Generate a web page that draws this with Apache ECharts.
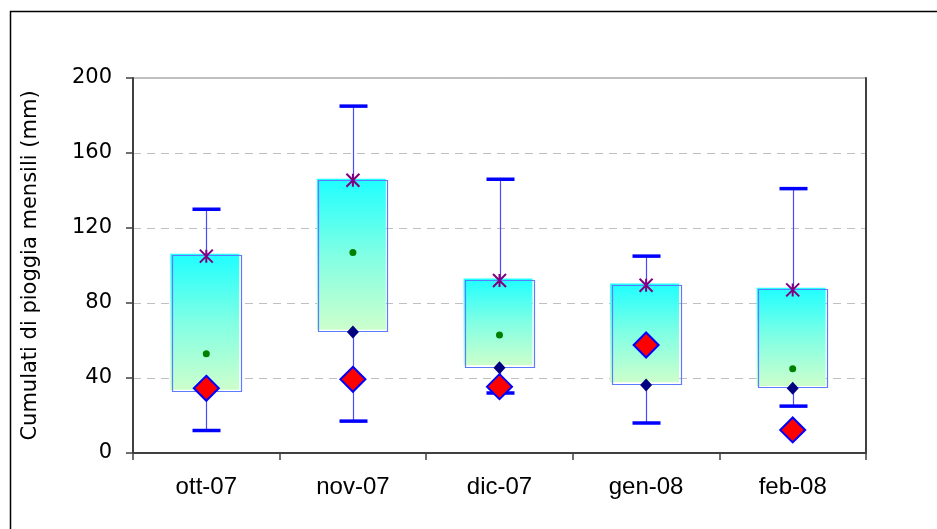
<!DOCTYPE html>
<html>
<head>
<meta charset="utf-8">
<script src="https://cdn.jsdelivr.net/npm/echarts@6/dist/echarts.min.js"></script>
<style>html,body{margin:0;padding:0;background:#fff;}#c{width:937px;height:529px;}</style>
</head>
<body>
<div id="c"></div>
<script>
var categories = ['ott-07', 'nov-07', 'dic-07', 'gen-08', 'feb-08'];
var whiskerLow = [12, 17, 32, 16, 25];
var whiskerHigh = [130, 185, 146, 105, 141];
var boxLow = [33, 65, 46, 37, 35];
var boxHigh = [105.5, 145.5, 92.3, 89.6, 87.3];
var starValues = [105, 145.5, 92, 89.5, 87];
var greenDotValues = [53, 107, 63, 57, 45];
var darkDiamondValues = [34, 64.5, 45.5, 36.3, 34.5];
var redDiamondValues = [34.5, 39.3, 35.4, 57.6, 12.3];
var yTicks = [0, 40, 80, 120, 160, 200];

var chart = echarts.init(document.getElementById('c'), null, {renderer: 'canvas'});

var whiskerData = categories.map(function (c, i) { return [i, whiskerLow[i], whiskerHigh[i]]; });
var boxData = categories.map(function (c, i) { return [i, boxLow[i], boxHigh[i]]; });
function pts(arr) { return arr.map(function (v, i) { return [i, v]; }); }

var option = {
  animation: false,
  backgroundColor: '#ffffff',
  graphic: [{
    type: 'rect', left: 8, top: 9, z: 0, silent: true,
    shape: {width: 1000, height: 1000},
    style: {fill: 'none', stroke: '#000000', lineWidth: 1.5}
  }],
  grid: {left: 133, top: 78, right: 71, bottom: 76, show: true, borderColor: '#808080', borderWidth: 1},
  xAxis: {
    type: 'category',
    data: categories,
    boundaryGap: true,
    axisLine: {show: true, lineStyle: {color: '#404040', width: 2}},
    axisTick: {show: true, alignWithLabel: false, length: 7, lineStyle: {color: '#404040', width: 1.5}},
    axisLabel: {fontFamily: 'Liberation Sans', fontSize: 24, color: '#000', margin: 22},
    splitLine: {show: false}
  },
  yAxis: [{
    type: 'value',
    min: yTicks[0], max: yTicks[yTicks.length - 1], interval: 40,
    name: 'Cumulati di pioggia mensili (mm)',
    nameLocation: 'middle', nameRotate: 90, nameGap: 92,
    nameTextStyle: {fontFamily: 'DejaVu Sans', fontSize: 21, color: '#000'},
    axisLine: {show: true, lineStyle: {color: '#404040', width: 2}},
    axisTick: {show: true, length: 7, lineStyle: {color: '#404040', width: 1.5}},
    axisLabel: {fontFamily: 'DejaVu Sans', fontSize: 21, color: '#000', margin: 21},
    splitLine: {show: true, lineStyle: {color: '#c0c0c0', type: [8, 6], width: 1}}
  }, {
    type: 'value', position: 'right',
    min: yTicks[0], max: yTicks[yTicks.length - 1], interval: 40,
    axisLine: {show: true, lineStyle: {color: '#404040', width: 2}},
    axisTick: {show: false}, axisLabel: {show: false}, splitLine: {show: false}
  }],
  series: [
    {
      type: 'custom', name: 'whiskers', z: 1,
      data: whiskerData,
      encode: {x: 0, y: [1, 2]},
      renderItem: function (params, api) {
        var lo = api.coord([api.value(0), api.value(1)]);
        var hi = api.coord([api.value(0), api.value(2)]);
        var x = Math.round(lo[0]) + 0.5;
        var cap = 14;
        return {
          type: 'group',
          children: [
            {type: 'line', shape: {x1: x, y1: lo[1], x2: x, y2: hi[1]}, style: {stroke: '#4a4aff', lineWidth: 1.2}},
            {type: 'line', shape: {x1: x - cap, y1: lo[1], x2: x + cap, y2: lo[1]}, style: {stroke: '#0000ff', lineWidth: 3.5}},
            {type: 'line', shape: {x1: x - cap, y1: hi[1], x2: x + cap, y2: hi[1]}, style: {stroke: '#0000ff', lineWidth: 3.5}}
          ]
        };
      }
    },
    {
      type: 'custom', name: 'boxes', z: 2,
      data: boxData,
      encode: {x: 0, y: [1, 2]},
      renderItem: function (params, api) {
        var lo = api.coord([api.value(0), api.value(1)]);
        var hi = api.coord([api.value(0), api.value(2)]);
        var w = api.size([1, 0])[0] * 0.47;
        var x0 = lo[0] - w / 2;
        var h = lo[1] - hi[1];
        return {
          type: 'group',
          children: [
            {type: 'rect', shape: {x: x0 - 1.5, y: hi[1] - 1.5, width: w, height: h},
              style: {fill: new echarts.graphic.LinearGradient(0, 0, 0, 1, [
                {offset: 0, color: '#1effff'}, {offset: 0.5, color: '#80ffe4'}, {offset: 1, color: '#ccffcc'}]), stroke: null}},
            {type: 'rect', shape: {x: Math.round(x0) + 0.5, y: Math.round(hi[1]) + 0.5, width: Math.round(w), height: Math.round(h)},
              style: {fill: 'none', stroke: '#5c7cff', lineWidth: 1.2}}
          ]
        };
      }
    },
    {
      type: 'scatter', name: 'media', z: 3,
      data: pts(greenDotValues),
      symbol: 'circle', symbolSize: 7,
      itemStyle: {color: '#008000', opacity: 1}
    },
    {
      type: 'scatter', name: 'star', z: 4,
      data: pts(starValues),
      symbol: 'path://M0,0L10,10M10,0L0,10M5,0L5,10', symbolSize: 13,
      itemStyle: {color: 'rgba(0,0,0,0)', borderColor: '#800080', borderWidth: 2, opacity: 1}
    },
    {
      type: 'scatter', name: 'dark', z: 5,
      data: pts(darkDiamondValues),
      symbol: 'diamond', symbolSize: [12, 13],
      itemStyle: {color: '#000080', opacity: 1}
    },
    {
      type: 'scatter', name: 'red', z: 6,
      data: pts(redDiamondValues),
      symbol: 'diamond', symbolSize: [25, 25],
      itemStyle: {color: '#ff0000', borderColor: '#0000ff', borderWidth: 2, opacity: 1}
    }
  ]
};
chart.setOption(option);
</script>
</body>
</html>
